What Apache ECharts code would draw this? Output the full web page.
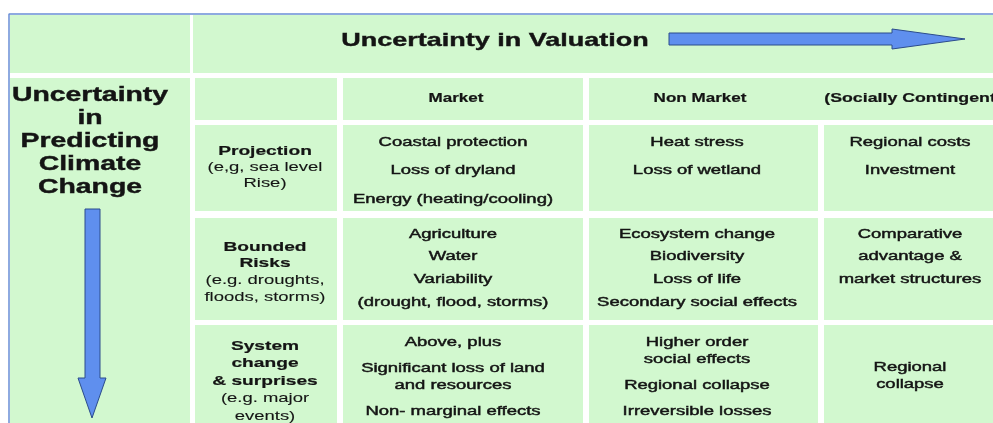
<!DOCTYPE html>
<html>
<head>
<meta charset="utf-8">
<script src="https://cdn.jsdelivr.net/npm/echarts@6/dist/echarts.min.js"></script>
<style>
html, body { margin: 0; padding: 0; background: #fff; }
#main { width: 993px; height: 423px; }
</style>
</head>
<body>
<div id="main"></div>
<script>
// ---- table content
var valuationTitle = 'Uncertainty in Valuation';
var predictionTitle = ['Uncertainty', 'in', 'Predicting', 'Climate', 'Change'];
var valuationTypes = ['Market', 'Non Market', '(Socially Contingent)'];
var levelNames = [['Projection'], ['Bounded', 'Risks'], ['System', 'change', '& surprises']];
var levelExamples = [['(e,g, sea level', 'Rise)'], ['(e.g. droughts,', 'floods, storms)'], ['(e.g. major', 'events)']];
var marketImpacts = [
	['Coastal protection', 'Loss of dryland', 'Energy (heating/cooling)'],
	['Agriculture', 'Water', 'Variability', '(drought, flood, storms)'],
	['Above, plus', 'Significant loss of land\nand resources', 'Non- marginal effects']
];
var nonMarketImpacts = [
	['Heat stress', 'Loss of wetland'],
	['Ecosystem change', 'Biodiversity', 'Loss of life', 'Secondary social effects'],
	['Higher order\nsocial effects', 'Regional collapse', 'Irreversible losses']
];
var socialImpacts = [
	['Regional costs', 'Investment'],
	['Comparative', 'advantage &', 'market structures'],
	['Regional\ncollapse']
];

// ---- layout (axis units = pixels of the picture)
var SX = 1.42; // the source picture is stretched sideways
var green = '#d2f8cf';
var ink = '#141414';
var FONT = '"Liberation Sans", Arial, sans-serif';
var colX = {
	left: [10, 190], head: [193, 1000], level: [195, 337],
	market: [343, 583], nonMarket: [589, 818], social: [824, 1000], types: [589, 1000]
};
var rowTop = [15, 73], rowTypes = [78, 120];
var rowBody = [[125, 211], [218, 320], [325, 440]];
var textX = { left: 90, level: 265, market: 453, nonMarket: 697, social: 910 };
var firstLineY = [142, 234, 342], entryPitch = [28.5, 22.7, 26], wrapPitch = 17;
var levelFirstY = [151, 247, 346], levelPitch = [16.3, 16.7, 17.5];
var socialShift = [0, 0, 25];

function txt(t, x, y, font, thick) {
	return { t: t, x: x, y: y, font: font, thick: thick || 0 };
}

function entryTexts(entries, x, y0, pitch) {
	var out = [], y = y0;
	entries.forEach(function (e) {
		var lines = e.split('\n');
		lines.forEach(function (l, k) {
			out.push(txt(l, x, y, '13px ' + FONT, 0.45));
			if (k < lines.length - 1) y += wrapPitch;
		});
		y += pitch;
	});
	return out;
}

var cells = [];
cells.push({ x: colX.left, y: rowTop, texts: [] });
cells.push({ x: colX.head, y: rowTop, texts: [txt(valuationTitle, 495, 41, 'bold 19px ' + FONT, 0.4)] });
cells.push({
	x: colX.left, y: [rowTypes[0], 440],
	texts: predictionTitle.map(function (t, i) { return txt(t, textX.left, 95 + i * 23, 'bold 20px ' + FONT, 0.4); })
});
cells.push({ x: colX.level, y: rowTypes, texts: [] });
cells.push({ x: colX.market, y: rowTypes, texts: [txt(valuationTypes[0], 456, 99, 'bold 12px ' + FONT, 0.2)] });
cells.push({
	x: colX.types, y: rowTypes,
	texts: [txt(valuationTypes[1], 700, 99, 'bold 12px ' + FONT, 0.2), txt(valuationTypes[2], 913, 99, 'bold 12.5px ' + FONT, 0.2)]
});
rowBody.forEach(function (ry, r) {
	var lv = [];
	var y = levelFirstY[r];
	levelNames[r].forEach(function (t) { lv.push(txt(t, textX.level, y, 'bold 13.5px ' + FONT, 0.2)); y += levelPitch[r]; });
	levelExamples[r].forEach(function (t) { lv.push(txt(t, textX.level, y, '13px ' + FONT, 0.1)); y += levelPitch[r]; });
	cells.push({ x: colX.level, y: ry, texts: lv });
	cells.push({ x: colX.market, y: ry, texts: entryTexts(marketImpacts[r], textX.market, firstLineY[r], entryPitch[r]) });
	cells.push({ x: colX.nonMarket, y: ry, texts: entryTexts(nonMarketImpacts[r], textX.nonMarket, firstLineY[r], entryPitch[r]) });
	cells.push({ x: colX.social, y: ry, texts: entryTexts(socialImpacts[r], textX.social, firstLineY[r] + socialShift[r], entryPitch[r]) });
});

var arrows = [
	[[669, 33], [892, 33], [892, 29], [965, 39], [892, 49], [892, 45], [669, 45]],
	[[85, 209], [100, 209], [100, 378], [106, 378], [92, 418], [78, 378], [85, 378]]
];

var myChart = echarts.init(document.getElementById('main'));
var option = {
	backgroundColor: '#fff',
	animation: false,
	grid: { left: 0, right: 0, top: 0, bottom: 0 },
	xAxis: { type: 'value', min: 0, max: 993, show: false },
	yAxis: { type: 'value', min: 0, max: 423, inverse: true, show: false },
	series: [{
		type: 'custom',
		silent: true,
		clip: true,
		data: cells.map(function (c) { return [c.x[0], c.y[0]]; }),
		renderItem: function (params, api) {
			var c = cells[params.dataIndex];
			var p0 = api.coord([c.x[0], c.y[0]]);
			var p1 = api.coord([c.x[1], c.y[1]]);
			var children = [{
				type: 'rect',
				shape: { x: p0[0], y: p0[1], width: p1[0] - p0[0], height: p1[1] - p0[1] },
				style: { fill: green }
			}];
			c.texts.forEach(function (t) {
				var p = api.coord([t.x, t.y]);
				children.push({
					type: 'text', x: p[0], y: p[1], scaleX: SX,
					style: {
						text: t.t, font: t.font, fill: ink, align: 'center', verticalAlign: 'middle',
						stroke: t.thick ? ink : null, lineWidth: t.thick
					}
				});
			});
			return { type: 'group', children: children };
		}
	}, {
		type: 'custom',
		silent: true,
		data: arrows.map(function (a) { return a[0]; }),
		renderItem: function (params, api) {
			var pts = arrows[params.dataIndex].map(function (q) { return api.coord(q); });
			return {
				type: 'polygon', shape: { points: pts },
				style: { fill: '#5f8fee', stroke: '#2c4c8c', lineWidth: 1 }
			};
		}
	}, {
		type: 'line',
		silent: true,
		symbol: 'none',
		data: [[9, 423], [9, 14], [993, 14]],
		lineStyle: { color: '#6a8fd6', width: 1.5 }
	}]
};
myChart.setOption(option);
</script>
</body>
</html>
